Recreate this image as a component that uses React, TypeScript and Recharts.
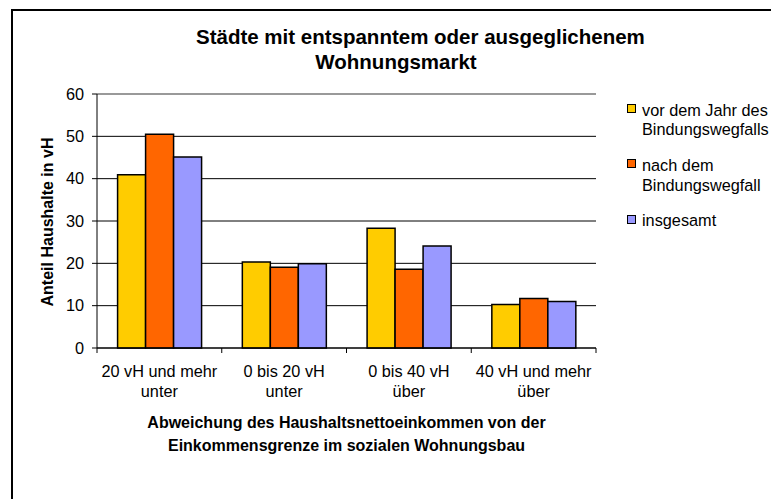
import React from "react";
import {
    BarChart,
    Bar,
    XAxis,
    YAxis,
    CartesianGrid,
    Legend,
    Label,
    ReferenceLine
} from "recharts";

// category tick labels (two lines each)
const categories = [
    "20 vH und mehr\nunter",
    "0 bis 20 vH\nunter",
    "0 bis 40 vH\nüber",
    "40 vH und mehr\nüber"
];

const vorDemJahr = [40.9, 20.3, 28.3, 10.3];
const nachDemWegfall = [50.5, 19.1, 18.6, 11.7];
const insgesamt = [45.1, 19.9, 24.1, 11.0];

const seriesNames = [
    "vor dem Jahr des Bindungswegfalls",
    "nach dem Bindungswegfall",
    "insgesamt"
];

const yTicks = [0, 10, 20, 30, 40, 50, 60];

const titleLines = ["Städte mit entspanntem oder ausgeglichenem", "Wohnungsmarkt"];
const yTitle = "Anteil Haushalte in vH";
const xTitleLines = [
    "Abweichung des Haushaltsnettoeinkommen von der",
    "Einkommensgrenze im sozialen Wohnungsbau"
];

const colors = ["#FFCC00", "#FF6600", "#9999FF"];
const font = "Arial, 'Liberation Sans', sans-serif";
const textSize = 16.3;

const data = categories.map((name, i) => ({
    name,
    vor: vorDemJahr[i],
    nach: nachDemWegfall[i],
    ges: insgesamt[i]
}));

const CategoryTick = (props: any) => {
    const { x, y, payload, index, visibleTicksCount } = props;
    const half = payload.offset || 0;
    const lines = String(payload.value).split("\n");
    const isLast = index === (visibleTicksCount ?? categories.length) - 1;
    return (
        <g>
            <line x1={x - half} x2={x - half} y1={y} y2={y + 5} stroke="#000" />
            {isLast && (
                <line x1={x + half} x2={x + half} y1={y} y2={y + 5} stroke="#000" />
            )}
            {lines.map((line, i) => (
                <text
                    key={i}
                    x={x}
                    y={y + 29 + i * 20}
                    textAnchor="middle"
                    fontSize={textSize}
                    fontFamily={font}
                    fill="#000"
                >
                    {line}
                </text>
            ))}
        </g>
    );
};

const LegendContent = (props: any) => {
    // keep the series order of the original legend
    const payload = [...(props.payload || [])].sort(
        (a: any, b: any) => seriesNames.indexOf(a.value) - seriesNames.indexOf(b.value)
    );
    return (
        <div style={{ fontFamily: font, fontSize: textSize, color: "#000" }}>
            {payload.map((entry: any, i: number) => (
                <div key={i} style={{ position: "relative", height: 55.3 }}>
                    <div
                        style={{
                            position: "absolute",
                            left: 0,
                            top: 3.4,
                            width: 7,
                            height: 7,
                            background: entry.color,
                            border: "1px solid #000"
                        }}
                    />
                    <div
                        style={{
                            marginLeft: 15,
                            width: 140,
                            lineHeight: "19.7px",
                            whiteSpace: "normal"
                        }}
                    >
                        {entry.value}
                    </div>
                </div>
            ))}
        </div>
    );
};

export default function App() {
    return (
        <div
            style={{
                position: "absolute",
                left: 0,
                top: 0,
                width: 771,
                height: 499,
                overflow: "hidden",
                background: "#fff"
            }}
        >
            <div
                style={{
                    position: "absolute",
                    left: 11,
                    top: 9,
                    width: 800,
                    height: 540,
                    border: "2px solid #000"
                }}
            />
            {titleLines.map((line, i) => (
                <div
                    key={i}
                    style={{
                        position: "absolute",
                        left: 196,
                        width: 400,
                        top: 26 + i * 24.5,
                        lineHeight: "22px",
                        textAlign: "center",
                        fontFamily: font,
                        fontWeight: "bold",
                        fontSize: 20.5,
                        color: "#000",
                        whiteSpace: "nowrap"
                    }}
                >
                    {line}
                </div>
            ))}
            <BarChart
                width={771}
                height={499}
                data={data}
                margin={{ top: 94, right: 175, left: 0, bottom: 0 }}
                barCategoryGap="16.5%"
                barGap={0}
                style={{ position: "absolute", left: 0, top: 0 }}
            >
                <CartesianGrid vertical={false} stroke="#000" />
                <XAxis
                    dataKey="name"
                    height={151}
                    tickLine={false}
                    tickSize={0}
                    tickMargin={0}
                    interval={0}
                    axisLine={{ stroke: "#000" }}
                    tick={<CategoryTick />}
                >
                    <Label
                        content={({ viewBox }: any) => (
                            <g>
                                {xTitleLines.map((line, i) => (
                                    <text
                                        key={i}
                                        x={viewBox.x + viewBox.width / 2}
                                        y={viewBox.y + 80 + i * 23}
                                        textAnchor="middle"
                                        fontSize={16}
                                        fontWeight="bold"
                                        fontFamily={font}
                                        fill="#000"
                                    >
                                        {line}
                                    </text>
                                ))}
                            </g>
                        )}
                    />
                </XAxis>
                <YAxis
                    width={97}
                    domain={[0, 60]}
                    ticks={yTicks}
                    interval={0}
                    tickSize={5}
                    tickMargin={8}
                    axisLine={{ stroke: "#000" }}
                    tickLine={{ stroke: "#000" }}
                    tick={{ fontSize: textSize, fontFamily: font, fill: "#000" }}
                >
                    <Label
                        content={({ viewBox }: any) => {
                            const cx = viewBox.x + 53;
                            const cy = viewBox.y + viewBox.height / 2 + 1;
                            return (
                                <text
                                    x={cx}
                                    y={cy}
                                    transform={`rotate(-90, ${cx}, ${cy})`}
                                    textAnchor="middle"
                                    fontSize={16}
                                    fontWeight="bold"
                                    fontFamily={font}
                                    fill="#000"
                                >
                                    {yTitle}
                                </text>
                            );
                        }}
                    />
                </YAxis>
                <YAxis
                    yAxisId="frame"
                    orientation="right"
                    width={0}
                    domain={[0, 60]}
                    tick={false}
                    tickLine={false}
                    axisLine={{ stroke: "#999", strokeWidth: 2 }}
                />
                <ReferenceLine y={60} stroke="#999" strokeWidth={2} />
                <Legend
                    layout="vertical"
                    align="center"
                    verticalAlign="middle"
                    wrapperStyle={{ left: 627, top: 100.6, width: 160, height: 180 }}
                    content={<LegendContent />}
                />
                <Bar
                    dataKey="vor"
                    name={seriesNames[0]}
                    fill={colors[0]}
                    stroke="#000"
                    strokeWidth={1.5}
                    isAnimationActive={false}
                />
                <Bar
                    dataKey="nach"
                    name={seriesNames[1]}
                    fill={colors[1]}
                    stroke="#000"
                    strokeWidth={1.5}
                    isAnimationActive={false}
                />
                <Bar
                    dataKey="ges"
                    name={seriesNames[2]}
                    fill={colors[2]}
                    stroke="#000"
                    strokeWidth={1.5}
                    isAnimationActive={false}
                />
            </BarChart>
        </div>
    );
}
